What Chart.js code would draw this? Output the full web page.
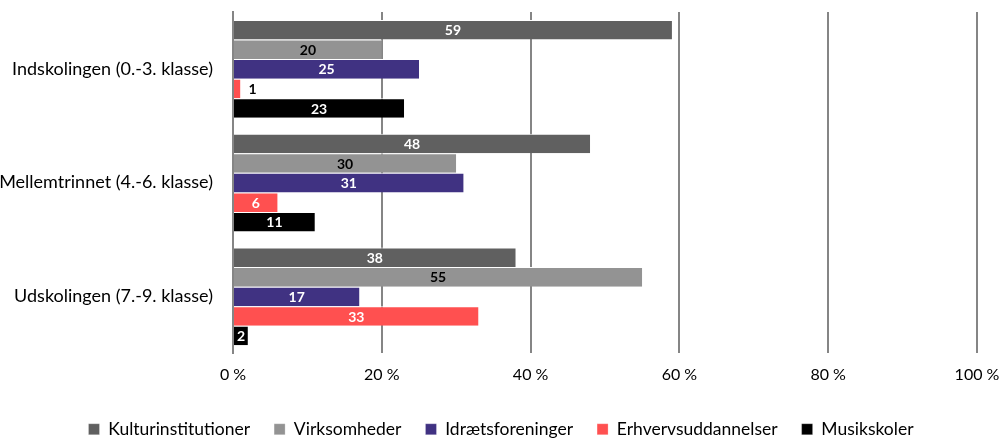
<!DOCTYPE html>
<html>
<head>
<meta charset="utf-8">
<script src="https://cdn.jsdelivr.net/npm/chart.js@4"></script>
<style>
    html, body { margin: 0; padding: 0; background: #fff; }
    #wrap { width: 1002px; height: 439px; }
</style>
</head>
<body>
<div id="wrap"><canvas id="chart"></canvas></div>
<script>
// --- Data ---
const categories = ['Indskolingen (0.-3. klasse)', 'Mellemtrinnet (4.-6. klasse)', 'Udskolingen (7.-9. klasse)'];
const seriesNames = ['Kulturinstitutioner', 'Virksomheder', 'Idrætsforeninger', 'Erhvervsuddannelser', 'Musikskoler'];
const kulturinstitutioner = [59, 48, 38];
const virksomheder = [20, 30, 55];
const idraetsforeninger = [25, 31, 17];
const erhvervsuddannelser = [1, 6, 33];
const musikskoler = [23, 11, 2];
const xTicks = [0, 20, 40, 60, 80, 100];

const colors = ['#606060', '#939393', '#403282', '#ff5050', '#000000'];
const labelColors = ['#ffffff', '#000000', '#ffffff', '#ffffff', '#ffffff'];
const seriesValues = [kulturinstitutioner, virksomheder, idraetsforeninger, erhvervsuddannelser, musikskoler];

const FONT = 'Lato, "Open Sans", sans-serif';

// --- Value labels drawn on the bars ---
const barLabels = {
    id: 'barLabels',
    afterDatasetsDraw(chart) {
        const ctx = chart.ctx;
        ctx.save();
        ctx.font = `bold 14px ${FONT}`;
        ctx.textBaseline = 'middle';
        chart.data.datasets.forEach((ds, i) => {
            const meta = chart.getDatasetMeta(i);
            meta.data.forEach((bar, j) => {
                const text = String(ds.data[j]);
                const w = ctx.measureText(text).width;
                const barWidth = bar.x - bar.base;
                if (barWidth > w + 4) {
                    ctx.textAlign = 'center';
                    ctx.fillStyle = labelColors[i];
                    ctx.fillText(text, (bar.x + bar.base) / 2, bar.y + 1);
                } else {
                    ctx.textAlign = 'left';
                    ctx.fillStyle = '#000';
                    ctx.fillText(text, bar.x + 8, bar.y + 1);
                }
            });
        });
        ctx.restore();
    }
};

const datasets = seriesNames.map((name, i) => ({
    label: name,
    data: seriesValues[i],
    backgroundColor: colors[i],
    borderColor: '#ffffff',
    borderWidth: { top: 1, bottom: 0, left: 0, right: 0 },
    borderSkipped: false,
    barPercentage: 1,
    categoryPercentage: 0.86
}));

new Chart(document.getElementById('chart'), {
    type: 'bar',
    data: { labels: categories, datasets },
    options: {
        indexAxis: 'y',
        responsive: true,
        maintainAspectRatio: false,
        animation: false,
        layout: { padding: { top: 0, right: 0, left: 0, bottom: -9 } },
        scales: {
            x: {
                min: 0,
                max: 100,
                afterBuildTicks: axis => { axis.ticks = xTicks.map(v => ({ value: v })); },
                afterFit: axis => {
                    axis.paddingLeft = 0;
                    axis.paddingRight = 25;
                },
                grid: { color: '#858585', lineWidth: 2, drawTicks: false },
                border: { display: false },
                ticks: {
                    callback: v => v + ' %',
                    color: '#000',
                    padding: 12,
                    font: { family: FONT, size: 16 }
                }
            },
            y: {
                afterFit: axis => {
                    axis.width = 233;
                    axis.paddingTop = 12;
                    axis.paddingBottom = 0;
                },
                grid: { display: false },
                border: { display: true, color: '#858585', width: 2 },
                ticks: {
                    color: '#000',
                    padding: 12,
                    font: { family: FONT, size: 18 }
                }
            }
        },
        plugins: {
            legend: {
                position: 'bottom',
                labels: {
                    boxWidth: 11,
                    boxHeight: 11,
                    padding: 24,
                    color: '#000',
                    font: { family: FONT, size: 17.5 }
                }
            },
            tooltip: { enabled: false }
        }
    },
    plugins: [barLabels]
});
</script>
</body>
</html>
